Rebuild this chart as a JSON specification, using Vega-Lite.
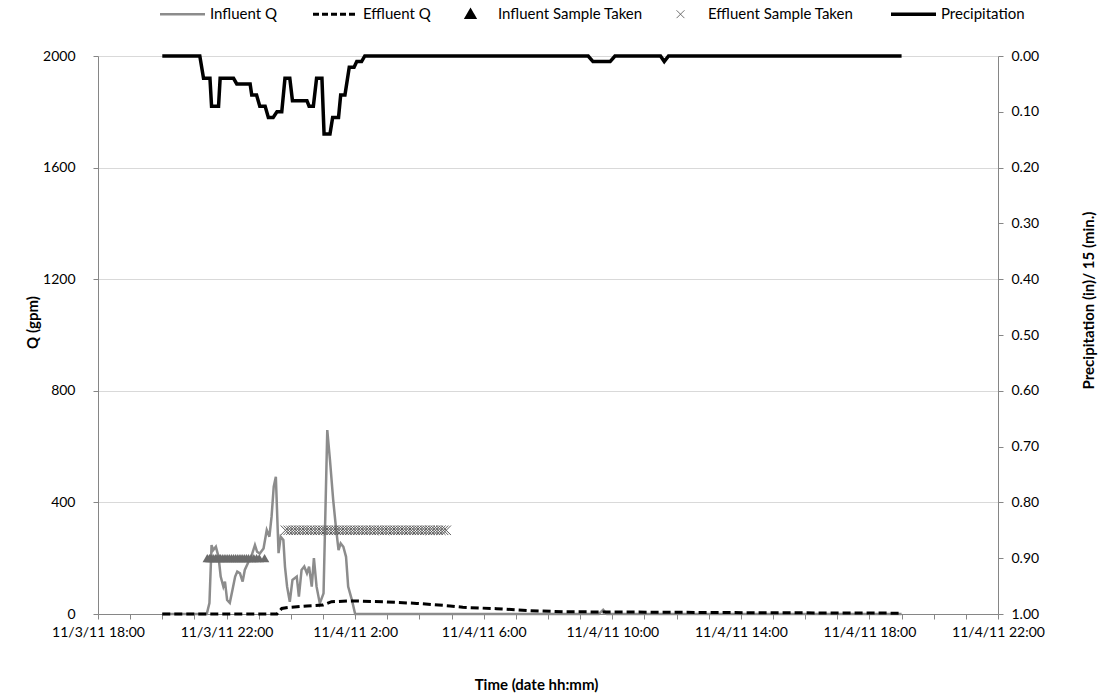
{
  "$schema": "https://vega.github.io/schema/vega-lite/v6.json",
  "width": 900,
  "height": 558,
  "autosize": {"type": "none"},
  "padding": {"left": 98, "top": 56, "right": 104, "bottom": 79},
  "config": {"font": "Lato", "view": {"stroke": null}},
  "datasets": {
    "infl": [
      {"h": 2.0, "v": 0}, {"h": 3.383, "v": 0}, {"h": 3.467, "v": 39}, {"h": 3.533, "v": 247}, {"h": 3.583, "v": 229},
      {"h": 3.667, "v": 241}, {"h": 3.75, "v": 205}, {"h": 3.817, "v": 134}, {"h": 3.9, "v": 98}, {"h": 3.95, "v": 116},
      {"h": 4.017, "v": 50}, {"h": 4.1, "v": 40}, {"h": 4.183, "v": 86}, {"h": 4.267, "v": 134}, {"h": 4.333, "v": 152},
      {"h": 4.417, "v": 146}, {"h": 4.5, "v": 116}, {"h": 4.567, "v": 158}, {"h": 4.683, "v": 187}, {"h": 4.783, "v": 211},
      {"h": 4.883, "v": 247}, {"h": 4.95, "v": 223}, {"h": 5.033, "v": 217}, {"h": 5.15, "v": 235}, {"h": 5.25, "v": 301},
      {"h": 5.333, "v": 277}, {"h": 5.4, "v": 349}, {"h": 5.467, "v": 456}, {"h": 5.533, "v": 492}, {"h": 5.617, "v": 218},
      {"h": 5.683, "v": 277}, {"h": 5.767, "v": 265}, {"h": 5.817, "v": 170}, {"h": 5.883, "v": 98}, {"h": 5.967, "v": 44},
      {"h": 6.05, "v": 122}, {"h": 6.183, "v": 134}, {"h": 6.25, "v": 62}, {"h": 6.333, "v": 158}, {"h": 6.417, "v": 170},
      {"h": 6.5, "v": 146}, {"h": 6.567, "v": 170}, {"h": 6.65, "v": 98}, {"h": 6.717, "v": 200}, {"h": 6.8, "v": 98},
      {"h": 6.9, "v": 38}, {"h": 7.017, "v": 74}, {"h": 7.133, "v": 659}, {"h": 7.217, "v": 552}, {"h": 7.317, "v": 409},
      {"h": 7.4, "v": 313}, {"h": 7.483, "v": 229}, {"h": 7.55, "v": 253}, {"h": 7.633, "v": 241}, {"h": 7.717, "v": 205},
      {"h": 7.783, "v": 98}, {"h": 7.9, "v": 50}, {"h": 8.0, "v": 0}, {"h": 15.583, "v": 0}, {"h": 15.717, "v": 15},
      {"h": 15.833, "v": 0}, {"h": 25.0, "v": 0}
    ],
    "effl": [
      {"h": 2.0, "v": 0}, {"h": 5.567, "v": 0}, {"h": 5.717, "v": 20}, {"h": 5.967, "v": 24}, {"h": 6.5, "v": 29},
      {"h": 7.0, "v": 32}, {"h": 7.267, "v": 44}, {"h": 7.833, "v": 47}, {"h": 8.867, "v": 44}, {"h": 9.917, "v": 38},
      {"h": 10.95, "v": 29}, {"h": 11.35, "v": 24}, {"h": 12.4, "v": 19}, {"h": 13.433, "v": 12}, {"h": 14.467, "v": 8},
      {"h": 16.55, "v": 7}, {"h": 19.667, "v": 5}, {"h": 24.95, "v": 3}
    ],
    "precip": [
      {"h": 2.0, "v": 0}, {"h": 3.167, "v": 0}, {"h": 3.283, "v": 0.04}, {"h": 3.483, "v": 0.04}, {"h": 3.533, "v": 0.09},
      {"h": 3.75, "v": 0.09}, {"h": 3.8, "v": 0.04}, {"h": 4.217, "v": 0.04}, {"h": 4.317, "v": 0.05}, {"h": 4.733, "v": 0.05},
      {"h": 4.783, "v": 0.07}, {"h": 4.933, "v": 0.07}, {"h": 5.033, "v": 0.09}, {"h": 5.2, "v": 0.09}, {"h": 5.3, "v": 0.11},
      {"h": 5.45, "v": 0.11}, {"h": 5.567, "v": 0.10}, {"h": 5.717, "v": 0.10}, {"h": 5.817, "v": 0.04}, {"h": 5.967, "v": 0.04},
      {"h": 6.05, "v": 0.08}, {"h": 6.5, "v": 0.08}, {"h": 6.567, "v": 0.09}, {"h": 6.7, "v": 0.09}, {"h": 6.8, "v": 0.04},
      {"h": 6.967, "v": 0.04}, {"h": 7.033, "v": 0.14}, {"h": 7.217, "v": 0.14}, {"h": 7.3, "v": 0.11}, {"h": 7.483, "v": 0.11},
      {"h": 7.55, "v": 0.07}, {"h": 7.683, "v": 0.07}, {"h": 7.817, "v": 0.02}, {"h": 7.967, "v": 0.02}, {"h": 8.05, "v": 0.01},
      {"h": 8.2, "v": 0.01}, {"h": 8.3, "v": 0}, {"h": 15.25, "v": 0}, {"h": 15.4, "v": 0.01}, {"h": 15.933, "v": 0.01},
      {"h": 16.083, "v": 0}, {"h": 17.5, "v": 0}, {"h": 17.617, "v": 0.01}, {"h": 17.75, "v": 0}, {"h": 25.0, "v": 0}
    ],
    "insamp": [
      {"h": 3.4, "v": 200}, {"h": 3.467, "v": 200}, {"h": 3.517, "v": 200}, {"h": 3.583, "v": 200}, {"h": 3.65, "v": 200},
      {"h": 3.7, "v": 200}, {"h": 3.767, "v": 200}, {"h": 3.817, "v": 200}, {"h": 3.883, "v": 200}, {"h": 3.95, "v": 200},
      {"h": 4.017, "v": 200}, {"h": 4.083, "v": 200}, {"h": 4.15, "v": 200}, {"h": 4.217, "v": 200}, {"h": 4.283, "v": 200},
      {"h": 4.35, "v": 200}, {"h": 4.417, "v": 200}, {"h": 4.483, "v": 200}, {"h": 4.55, "v": 200}, {"h": 4.617, "v": 200},
      {"h": 4.683, "v": 200}, {"h": 4.767, "v": 200}, {"h": 4.85, "v": 200}, {"h": 4.933, "v": 200}, {"h": 5.017, "v": 200},
      {"h": 5.183, "v": 200}
    ],
    "effsamp": [
      {"h": 5.833, "v": 300}, {"h": 5.917, "v": 300}, {"h": 6.0, "v": 300}, {"h": 6.083, "v": 300}, {"h": 6.167, "v": 300},
      {"h": 6.25, "v": 300}, {"h": 6.333, "v": 300}, {"h": 6.417, "v": 300}, {"h": 6.5, "v": 300}, {"h": 6.583, "v": 300},
      {"h": 6.667, "v": 300}, {"h": 6.75, "v": 300}, {"h": 6.833, "v": 300}, {"h": 6.917, "v": 300}, {"h": 7.0, "v": 300},
      {"h": 7.083, "v": 300}, {"h": 7.167, "v": 300}, {"h": 7.25, "v": 300}, {"h": 7.333, "v": 300}, {"h": 7.417, "v": 300},
      {"h": 7.5, "v": 300}, {"h": 7.583, "v": 300}, {"h": 7.667, "v": 300}, {"h": 7.75, "v": 300}, {"h": 7.833, "v": 300},
      {"h": 7.917, "v": 300}, {"h": 8.0, "v": 300}, {"h": 8.083, "v": 300}, {"h": 8.167, "v": 300}, {"h": 8.25, "v": 300},
      {"h": 8.333, "v": 300}, {"h": 8.417, "v": 300}, {"h": 8.5, "v": 300}, {"h": 8.583, "v": 300}, {"h": 8.667, "v": 300},
      {"h": 8.75, "v": 300}, {"h": 8.833, "v": 300}, {"h": 8.917, "v": 300}, {"h": 9.0, "v": 300}, {"h": 9.083, "v": 300},
      {"h": 9.167, "v": 300}, {"h": 9.25, "v": 300}, {"h": 9.333, "v": 300}, {"h": 9.417, "v": 300}, {"h": 9.5, "v": 300},
      {"h": 9.583, "v": 300}, {"h": 9.667, "v": 300}, {"h": 9.75, "v": 300}, {"h": 9.833, "v": 300}, {"h": 9.917, "v": 300},
      {"h": 10.0, "v": 300}, {"h": 10.083, "v": 300}, {"h": 10.167, "v": 300}, {"h": 10.25, "v": 300}, {"h": 10.333, "v": 300},
      {"h": 10.417, "v": 300}, {"h": 10.5, "v": 300}, {"h": 10.583, "v": 300}, {"h": 10.667, "v": 300}, {"h": 10.75, "v": 300},
      {"h": 10.833, "v": 300}
    ]
  },
  "encoding": {
    "x": {
      "field": "h",
      "type": "quantitative",
      "title": "Time (date hh:mm)",
      "scale": {"domain": [0, 28], "nice": false, "zero": false},
      "axis": {
        "values": [0, 1, 2, 3, 4, 5, 6, 7, 8, 9, 10, 11, 12, 13, 14, 15, 16, 17, 18, 19, 20, 21, 22, 23, 24, 25, 26, 27, 28],
        "labelExpr": "datum.value % 4 == 0 ? ['11/3/11 18:00', '11/3/11 22:00', '11/4/11 2:00', '11/4/11 6:00', '11/4/11 10:00', '11/4/11 14:00', '11/4/11 18:00', '11/4/11 22:00'][datum.value / 4] : ''",
        "labelOverlap": false,
        "labelFlush": false,
        "grid": false,
        "domainColor": "#868686",
        "tickColor": "#868686",
        "tickSize": 5,
        "labelFontSize": 14,
        "labelColor": "#000000",
        "labelPadding": 6,
        "titleFontSize": 15,
        "titleFontWeight": "bold",
        "titleColor": "#000000",
        "titleX": 438,
        "titleY": 70,
        "titleBaseline": "middle"
      }
    }
  },
  "layer": [
    {
      "encoding": {
        "y": {
          "field": "v",
          "type": "quantitative",
          "title": "Q (gpm)",
          "scale": {"domain": [0, 2000], "nice": false},
          "axis": {
            "values": [0, 400, 800, 1200, 1600, 2000],
            "format": "d",
            "gridColor": "#d9d9d9",
            "domainColor": "#868686",
            "tickColor": "#868686",
            "tickSize": 5,
            "labelFontSize": 14,
            "labelColor": "#000000",
            "labelPadding": 18,
            "titleFontSize": 15,
            "titleFontWeight": "bold",
            "titleColor": "#000000",
            "titleX": -66,
            "titleY": 266,
            "titleBaseline": "middle"
          }
        }
      },
      "layer": [
        {
          "data": {"name": "infl"},
          "mark": {"type": "line", "strokeWidth": 2.5},
          "encoding": {
            "color": {
              "datum": "Influent Q",
              "type": "nominal",
              "scale": {
                "domain": ["Influent Q", "Effluent Q", "Influent Sample Taken", "Effluent Sample Taken", "Precipitation"],
                "range": ["#8c8c8c", "#000000", "#000000", "#5a5a5a", "#000000"]
              },
              "legend": {
                "orient": "none",
                "legendX": 77,
                "legendY": -50,
                "direction": "horizontal",
                "columns": 5,
                "title": null,
                "labelFontSize": 15,
                "labelColor": "#000000",
                "symbolSize": 2025,
                "labelOffset": 20,
                "columnPadding": 30,
                "encode": {
                  "symbols": {
                    "update": {
                      "shape": {"signal": "datum.value == 'Influent Sample Taken' ? 'triangle-up' : datum.value == 'Effluent Sample Taken' ? 'M-1,-1L1,1M-1,1L1,-1' : 'stroke'"},
                      "size": {"signal": "datum.value == 'Influent Sample Taken' ? 80 : datum.value == 'Effluent Sample Taken' ? 60 : 2025"},
                      "fill": {"signal": "datum.value == 'Influent Sample Taken' ? '#000000' : 'transparent'"},
                      "stroke": {"signal": "datum.value == 'Influent Q' ? '#8c8c8c' : datum.value == 'Effluent Sample Taken' ? '#555555' : datum.value == 'Influent Sample Taken' ? 'transparent' : '#000000'"},
                      "strokeWidth": {"signal": "datum.value == 'Precipitation' ? 3.5 : datum.value == 'Effluent Sample Taken' ? 1 : datum.value == 'Effluent Q' ? 3 : 2.5"},
                      "strokeDash": {"signal": "datum.value == 'Effluent Q' ? [6, 3] : [1, 0]"},
                      "opacity": {"value": 1}
                    }
                  }
                }
              }
            }
          }
        },
        {
          "data": {"name": "effl"},
          "mark": {"type": "line", "strokeWidth": 3, "strokeDash": [8, 4]},
          "encoding": {"color": {"datum": "Effluent Q", "type": "nominal"}}
        },
        {
          "data": {"name": "insamp"},
          "mark": {"type": "point", "shape": "triangle-up", "filled": true, "size": 90, "fill": "#6b6b6b", "strokeWidth": 0, "opacity": 1},
          "encoding": {}
        },
        {
          "data": {"name": "effsamp"},
          "mark": {"type": "point", "shape": "M-1,-1L1,1M-1,1L1,-1", "filled": false, "size": 90, "stroke": "#5a5a5a", "strokeWidth": 1, "opacity": 1},
          "encoding": {}
        }
      ]
    },
    {
      "data": {"name": "precip"},
      "mark": {"type": "line", "strokeWidth": 3.5},
      "encoding": {
        "color": {"datum": "Precipitation", "type": "nominal"},
        "y": {
          "field": "v",
          "type": "quantitative",
          "title": "Precipitation (in)/ 15 (min.)",
          "scale": {"domain": [0, 1], "reverse": true, "nice": false},
          "axis": {
            "orient": "right",
            "values": [0, 0.1, 0.2, 0.3, 0.4, 0.5, 0.6, 0.7, 0.8, 0.9, 1.0],
            "format": ".2f",
            "grid": false,
            "domainColor": "#868686",
            "tickColor": "#868686",
            "tickSize": 5,
            "labelFontSize": 14,
            "labelColor": "#000000",
            "labelPadding": 8,
            "titleFontSize": 15,
            "titleFontWeight": "bold",
            "titleColor": "#000000",
            "titleAngle": 270,
            "titleX": 90,
            "titleY": 244,
            "titleBaseline": "middle"
          }
        }
      }
    }
  ],
  "resolve": {"scale": {"y": "independent"}}
}
